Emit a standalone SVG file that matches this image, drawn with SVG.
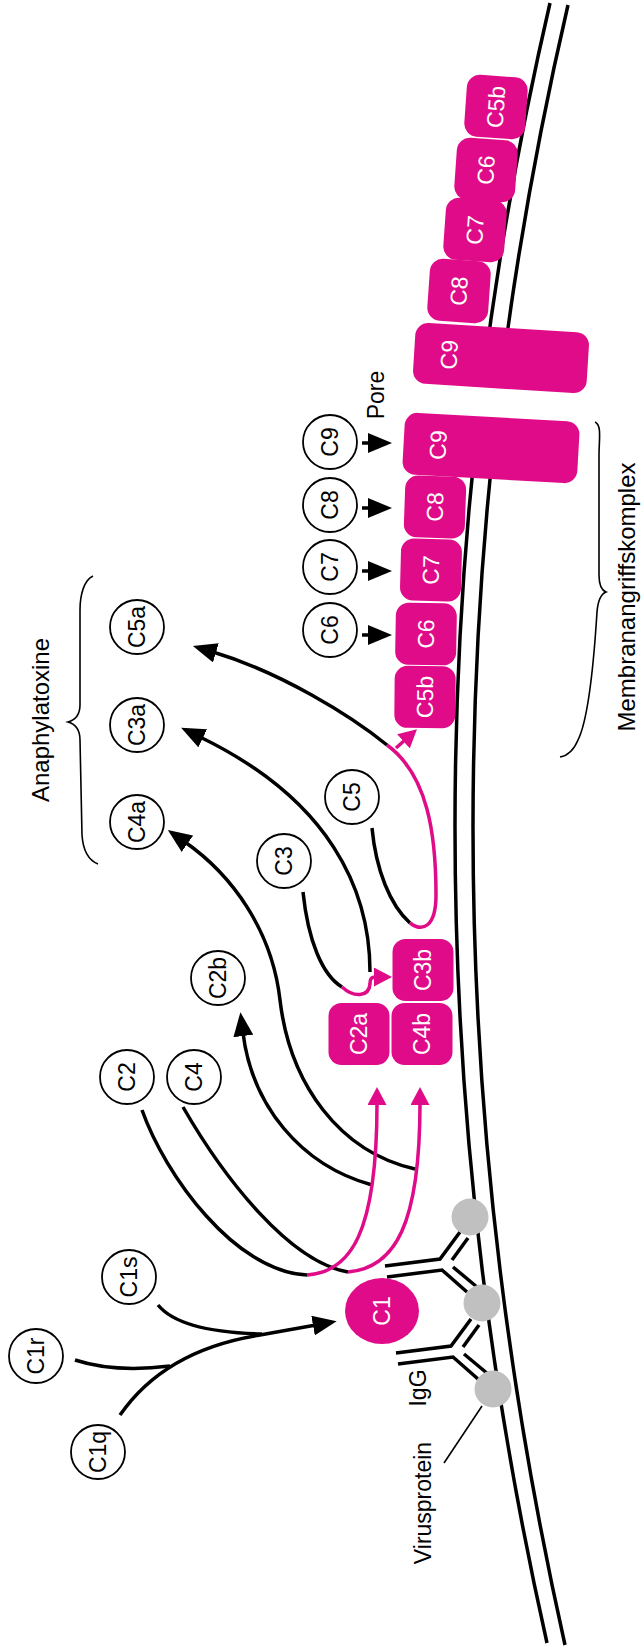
<svg xmlns="http://www.w3.org/2000/svg" width="641" height="1650" viewBox="0 0 641 1650">
<style>
.c{fill:#fff;stroke:#000;stroke-width:1.8}
.b{fill:#E00B88}
.t{font-family:"Liberation Sans",Arial,sans-serif;font-size:23px;text-anchor:middle;fill:#000}
.w{fill:#fff}
.lbl{font-family:"Liberation Sans",Arial,sans-serif;font-size:24px;text-anchor:middle;fill:#000}
.ln{fill:none;stroke:#000;stroke-width:3.5}
.mg{fill:none;stroke:#E00B88;stroke-width:3.5}
.mem{fill:none;stroke:#000;stroke-width:3.5}
.thin{fill:none;stroke:#000;stroke-width:1.6}
.g{fill:#C0C0C0}
</style>
<defs>
<marker id="ab" markerUnits="userSpaceOnUse" markerWidth="24" markerHeight="20" refX="3" refY="10" orient="auto"><path d="M0,0 L24,10 L0,20 z" fill="#000"/></marker>
<marker id="am" markerUnits="userSpaceOnUse" markerWidth="18" markerHeight="19" refX="2" refY="9.5" orient="auto"><path d="M0,0 L18,9.5 L0,19 z" fill="#E00B88"/></marker>
<mask id="pore" maskUnits="userSpaceOnUse" x="0" y="0" width="641" height="1650">
<rect x="0" y="0" width="641" height="1650" fill="#fff"/>
<polygon points="430,380 580,388 580,426 430,418" fill="#000"/>
</mask>
<g id="ab-shape">
<path class="ln" d="M-56,1.5 L-1,-5.5 L19,-32.5"/>
<path class="ln" d="M-54,12.5 L1,5.5 L26,27.5"/>
<path class="ln" d="M11,-4.5 L27,-26.5"/>
<path class="ln" d="M12,2.5 L36,22.5"/>
</g>
</defs>

<g id="membrane" mask="url(#pore)">
<path class="mem" d="M550,3 Q361.5,817 547,1643"/>
<path class="mem" d="M568,5 Q379.5,817 565,1645"/>
</g>

<g id="igg">
<use href="#ab-shape" transform="translate(441,1264.5)"/>
<use href="#ab-shape" transform="translate(452,1351.5)"/>
</g>
<g id="virusproteins">
<circle class="g" cx="470" cy="1217" r="18.5"/>
<circle class="g" cx="482" cy="1303" r="18.5"/>
<circle class="g" cx="493" cy="1389" r="18.5"/>
</g>

<g id="connectors">
<path class="ln" d="M120,1415 Q165,1350 260,1335 L316,1325" marker-end="url(#ab)"/>
<path class="ln" d="M75,1360 Q115,1373 170,1366"/>
<path class="ln" d="M158,1305 Q180,1332 262,1334"/>
<path class="ln" d="M142,1110 C165,1175 235,1272 307,1275"/>
<path class="ln" d="M183,1107 C225,1180 290,1262 348,1272"/>
<path class="ln" d="M372,1185 C300,1165 252,1105 243,1033" marker-end="url(#ab)"/>
<path class="ln" d="M415,1169 C340,1152 290,1085 280,1000 C272,930 232,875 185,842" marker-end="url(#ab)"/>
<path class="mg" d="M307,1275 C350,1272 377,1235 377,1103" marker-end="url(#am)"/>
<path class="mg" d="M348,1272 C395,1268 420,1225 420,1103" marker-end="url(#am)"/>
<path class="ln" d="M303,892 C308,940 322,975 342,987"/>
<path class="mg" d="M342,987 C354,998 369,997 370,984 C370,979 371,977 376,977" marker-end="url(#am)"/>
<path class="ln" d="M370,972 C370,890 330,800 200,737" marker-end="url(#ab)"/>
<path class="ln" d="M372,828 C376,870 390,905 410,923"/>
<path class="mg" d="M410,923 C422,932 436,928 436,895 C436,835 428,775 387,745"/>
<path class="mg" d="M396,748 L405,740" marker-end="url(#am)"/>
<path class="ln" d="M387,745 C350,715 280,672 213,652" marker-end="url(#ab)"/>
<path class="ln" d="M362,443 L371,443" marker-end="url(#ab)"/>
<path class="ln" d="M362,508 L371,508" marker-end="url(#ab)"/>
<path class="ln" d="M362,571 L371,571" marker-end="url(#ab)"/>
<path class="ln" d="M362,635 L371,635" marker-end="url(#ab)"/>
<path class="thin" d="M482,1406 L444,1463"/>
</g>

<g id="braces">
<path class="thin" d="M93,576 C84,580 80,595 80,610 L80,705 C80,715 75,720 68,722 C75,724 80,730 80,740 L82,835 C83,850 88,860 98,864"/>
<path class="thin" d="M595,422 C602,425 599,440 599,455 L599,575 C599,585 601,590 606,592 C601,594 598,600 597,612 C594,660 588,720 578,740 C573,752 566,756 560,757"/>
</g>

<g id="n-C5b-top" transform="translate(496,107) rotate(4)"><rect class="b" x="-30.5" y="-31" width="61" height="62" rx="13"/><text class="t w" transform="translate(8,0) rotate(-90)">C5b</text></g>
<g id="n-C6-top" transform="translate(486,170) rotate(4)"><rect class="b" x="-30.5" y="-31" width="61" height="62" rx="13"/><text class="t w" transform="translate(8,0) rotate(-90)">C6</text></g>
<g id="n-C7-top" transform="translate(475,230) rotate(4)"><rect class="b" x="-30.5" y="-31" width="61" height="62" rx="13"/><text class="t w" transform="translate(8,0) rotate(-90)">C7</text></g>
<g id="n-C8-top" transform="translate(459,291) rotate(4)"><rect class="b" x="-30.5" y="-31" width="61" height="62" rx="13"/><text class="t w" transform="translate(8,0) rotate(-90)">C8</text></g>
<g id="n-C9-top" transform="translate(501,358) rotate(3.6)"><rect class="b" x="-87" y="-30.5" width="174" height="61" rx="13"/><text class="t w" transform="translate(-44,0) rotate(-90)">C9</text></g>

<g id="n-C9-mac" transform="translate(491,448) rotate(3.2)"><rect class="b" x="-87.5" y="-31" width="175" height="62" rx="13"/><text class="t w" transform="translate(-45,0) rotate(-90)">C9</text></g>
<g id="n-C8-mac" transform="translate(435,507) rotate(2)"><rect class="b" x="-30.5" y="-31" width="61" height="62" rx="13"/><text class="t w" transform="translate(8,0) rotate(-90)">C8</text></g>
<g id="n-C7-mac" transform="translate(431,570) rotate(1.5)"><rect class="b" x="-30.5" y="-31" width="61" height="62" rx="13"/><text class="t w" transform="translate(8,0) rotate(-90)">C7</text></g>
<g id="n-C6-mac" transform="translate(426,634) rotate(1)"><rect class="b" x="-30.5" y="-31" width="61" height="62" rx="13"/><text class="t w" transform="translate(8,0) rotate(-90)">C6</text></g>
<g id="n-C5b-mac" transform="translate(425,697) rotate(0.5)"><rect class="b" x="-30.5" y="-31" width="61" height="62" rx="13"/><text class="t w" transform="translate(8,0) rotate(-90)">C5b</text></g>

<g id="n-C3b" transform="translate(423,970)"><rect class="b" x="-30.5" y="-31" width="61" height="62" rx="13"/><text class="t w" transform="translate(8,0) rotate(-90)">C3b</text></g>
<g id="n-C4b" transform="translate(422,1034)"><rect class="b" x="-30.5" y="-31" width="61" height="62" rx="13"/><text class="t w" transform="translate(8,0) rotate(-90)">C4b</text></g>
<g id="n-C2a" transform="translate(359,1034)"><rect class="b" x="-30.5" y="-31" width="61" height="62" rx="13"/><text class="t w" transform="translate(8,0) rotate(-90)">C2a</text></g>

<g id="n-C1"><ellipse class="b" cx="382" cy="1311" rx="37" ry="33"/><text class="t w" transform="translate(390,1311) rotate(-90)">C1</text></g>

<g id="n-C9"><circle class="c" cx="330" cy="442" r="27"/><text class="t" transform="translate(338,442) rotate(-90)">C9</text></g>
<g id="n-C8"><circle class="c" cx="330" cy="505" r="27"/><text class="t" transform="translate(338,505) rotate(-90)">C8</text></g>
<g id="n-C7"><circle class="c" cx="330" cy="567" r="27"/><text class="t" transform="translate(338,567) rotate(-90)">C7</text></g>
<g id="n-C6"><circle class="c" cx="330" cy="630" r="27"/><text class="t" transform="translate(338,630) rotate(-90)">C6</text></g>
<g id="n-C5a"><circle class="c" cx="137" cy="627" r="27"/><text class="t" transform="translate(145,627) rotate(-90)">C5a</text></g>
<g id="n-C3a"><circle class="c" cx="137" cy="725" r="27"/><text class="t" transform="translate(145,725) rotate(-90)">C3a</text></g>
<g id="n-C4a"><circle class="c" cx="137" cy="822" r="27"/><text class="t" transform="translate(145,822) rotate(-90)">C4a</text></g>
<g id="n-C5"><circle class="c" cx="352" cy="797" r="27"/><text class="t" transform="translate(360,797) rotate(-90)">C5</text></g>
<g id="n-C3"><circle class="c" cx="284" cy="861" r="27"/><text class="t" transform="translate(292,861) rotate(-90)">C3</text></g>
<g id="n-C2b"><circle class="c" cx="218" cy="978" r="27"/><text class="t" transform="translate(226,978) rotate(-90)">C2b</text></g>
<g id="n-C2"><circle class="c" cx="127" cy="1077" r="27"/><text class="t" transform="translate(135,1077) rotate(-90)">C2</text></g>
<g id="n-C4"><circle class="c" cx="194" cy="1077" r="27"/><text class="t" transform="translate(202,1077) rotate(-90)">C4</text></g>
<g id="n-C1s"><circle class="c" cx="129" cy="1277" r="27"/><text class="t" transform="translate(137,1277) rotate(-90)">C1s</text></g>
<g id="n-C1r"><circle class="c" cx="36" cy="1356" r="27"/><text class="t" transform="translate(44,1356) rotate(-90)">C1r</text></g>
<g id="n-C1q"><circle class="c" cx="98" cy="1452" r="27"/><text class="t" transform="translate(106,1452) rotate(-90)">C1q</text></g>

<g id="labels">
<text class="t" transform="translate(384,395) rotate(-90)">Pore</text>
<text class="lbl" transform="translate(49,720) rotate(-90)">Anaphylatoxine</text>
<text class="lbl" transform="translate(635,597) rotate(-90)">Membranangriffskomplex</text>
<text class="t" transform="translate(426,1388) rotate(-90)">IgG</text>
<text class="t" transform="translate(431,1503) rotate(-90)">Virusprotein</text>
</g>
</svg>
